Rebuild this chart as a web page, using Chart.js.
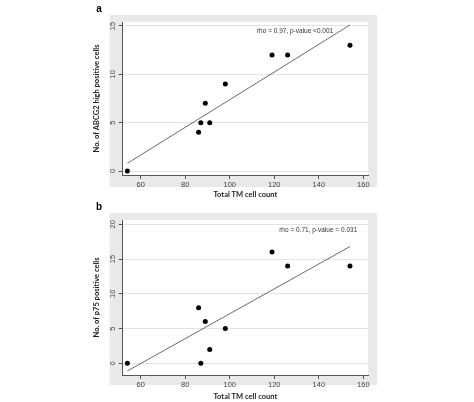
<!DOCTYPE html>
<html>
<head>
<meta charset="utf-8">
<script src="https://cdn.jsdelivr.net/npm/chart.js@4/dist/chart.umd.min.js"></script>
<style>
  body { margin: 0; background: #fff; }
  #wrap { position: relative; width: 474px; height: 402px; overflow: hidden; }
  canvas { position: absolute; left: 0; }
</style>
</head>
<body>
<div id="wrap">
  <canvas id="chartA" width="474" height="200" style="top:0px"></canvas>
  <canvas id="chartB" width="474" height="204" style="top:198px"></canvas>
</div>
<script>
// shared x values (total TM cell count)
const tmCount = [54, 86, 87, 89, 91, 98, 119, 126, 154];
const xTicks = [60, 80, 100, 120, 140, 160];

// panel a
const abcg2 = [0, 4, 5, 7, 5, 9, 12, 12, 13];
const fitA = [{ x: 54, y: 0.8 }, { x: 154, y: 15.1 }];
const yTicksA = [0, 5, 10, 15];
const noteA = "rho = 0.97, p-value <0.001";

// panel b
const p75 = [0, 8, 0, 6, 2, 5, 16, 14, 14];
const fitB = [{ x: 54, y: -1.1 }, { x: 154, y: 16.8 }];
const yTicksB = [0, 5, 10, 15, 20];
const noteB = "rho = 0.71, p-value = 0.031";

const tickFont = { family: "Liberation Sans", size: 7.5 };
const titleFont = { family: "Lato", size: 7.5, weight: "bold", lineHeight: 1 };

// gray box, white plot area, panel letter and the rho note
const panelDecor = {
  id: "panelDecor",
  beforeDraw(chart, args, opts) {
    const { ctx, chartArea: a } = chart;
    ctx.save();
    ctx.fillStyle = "#e9e9e9";
    ctx.fillRect(a.left - 13, a.top - 7, a.right - a.left + 22, a.bottom - a.top + opts.boxBottom + 7);
    ctx.fillStyle = "#fff";
    ctx.fillRect(a.left, a.top, a.right - a.left, a.bottom - a.top);
    ctx.restore();
  },
  afterDatasetsDraw(chart, args, opts) {
    const { ctx, scales } = chart;
    ctx.save();
    ctx.fillStyle = "#333";
    ctx.font = "6.5px 'Liberation Sans'";
    ctx.textBaseline = "middle";
    ctx.textAlign = "left";
    ctx.fillText(opts.note, scales.x.getPixelForValue(opts.noteX), scales.y.getPixelForValue(opts.noteY));
    ctx.fillStyle = "#000";
    ctx.font = "bold 10px 'Liberation Sans'";
    ctx.textAlign = "center";
    ctx.fillText(opts.letter, opts.letterX, opts.letterY);
    ctx.restore();
  }
};

function makePanel(id, yVals, fit, yTicks, yMin, yMax, yTitle, o) {
  const points = tmCount.map((x, i) => ({ x: x, y: yVals[i] }));
  return new Chart(document.getElementById(id), {
    data: {
      datasets: [
        {
          type: "line",
          data: fit,
          borderColor: "#444",
          borderWidth: 0.8,
          pointRadius: 0,
          fill: false,
        },
        {
          type: "scatter",
          data: points,
          backgroundColor: "#000",
          borderColor: "#000",
          pointRadius: 2.5,
          borderWidth: 0,
        },
      ],
    },
    options: {
      responsive: false,
      animation: false,
      layout: { padding: { left: 92.5, right: 106, top: o.top, bottom: 1.5 } },
      plugins: {
        legend: { display: false },
        tooltip: { enabled: false },
        panelDecor: o,
      },
      scales: {
        x: {
          type: "linear",
          min: 51.9,
          max: 162.1,
          afterBuildTicks: (s) => { s.ticks = xTicks.map((v) => ({ value: v })); },
          afterFit: (s) => { s.height = o.xHeight; },
          ticks: { font: tickFont, color: "#444", padding: 1, maxRotation: 0 },
          grid: { drawOnChartArea: false, tickLength: 4, tickColor: "#555" },
          border: { color: "#555", width: 1 },
          title: { display: true, text: "Total TM cell count", font: titleFont, color: "#222", padding: 0 },
        },
        y: {
          type: "linear",
          min: yMin,
          max: yMax,
          afterBuildTicks: (s) => { s.ticks = yTicks.map((v) => ({ value: v })); },
          afterFit: (s) => { s.width = 30.2; },
          ticks: { font: tickFont, color: "#444", padding: 2, minRotation: 90, maxRotation: 90, crossAlign: "center" },
          grid: { color: "#e2e2e2", lineWidth: 1, tickLength: 4, tickColor: "#555" },
          border: { color: "#555", width: 1 },
          title: { display: true, text: yTitle, font: titleFont, color: "#222", padding: 0 },
        },
      },
    },
    plugins: [panelDecor],
  });
}

makePanel("chartA", abcg2, fitA, yTicksA, -0.41, 15.41, "No. of ABCG2 high positive cells", {
  top: 22, xHeight: 23.5, boxBottom: 12,
  note: noteA, noteX: 112.2, noteY: 14.5,
  letter: "a", letterX: 99, letterY: 9,
});

makePanel("chartB", p75, fitB, yTicksB, -1.68, 20.62, "No. of p75 positive cells", {
  top: 22, xHeight: 25.5, boxBottom: 10,
  note: noteB, noteX: 122.2, noteY: 19.18,
  letter: "b", letterX: 99, letterY: 9,
});
</script>
</body>
</html>
